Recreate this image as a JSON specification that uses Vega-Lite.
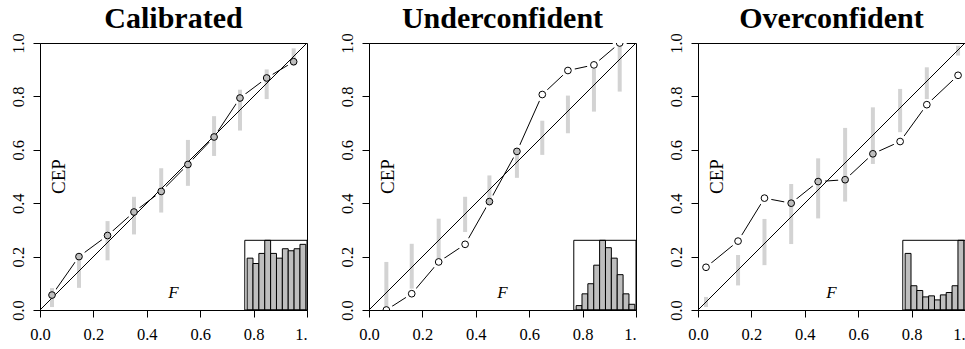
{
  "$schema": "https://vega.github.io/schema/vega-lite/v6.json",
  "background": "white",
  "padding": {"left": 9, "top": 3, "right": 0, "bottom": 0},
  "spacing": 30,
  "config": {
    "view": {"stroke": "black", "strokeWidth": 1},
    "axis": {"grid": false, "domainColor": "black", "tickColor": "black", "labelColor": "black", "labelFont": "Liberation Serif", "labelFontSize": 16.5, "labelFontWeight": "normal", "tickSize": 7, "domainWidth": 1, "tickWidth": 1},
    "title": {"font": "Liberation Serif", "fontSize": 30, "fontWeight": "bold", "color": "black", "offset": -1, "anchor": "middle"}
  },
  "datasets": {
    "one": [{"note": "annotation"}],
    "pts": [
      {"panel": "Calibrated", "F": 0.045, "CEP": 0.056, "lo": 0.011, "hi": 0.082, "ok": "yes"},
      {"panel": "Calibrated", "F": 0.146, "CEP": 0.200, "lo": 0.083, "hi": 0.21, "ok": "yes"},
      {"panel": "Calibrated", "F": 0.253, "CEP": 0.279, "lo": 0.186, "hi": 0.333, "ok": "yes"},
      {"panel": "Calibrated", "F": 0.352, "CEP": 0.367, "lo": 0.283, "hi": 0.424, "ok": "yes"},
      {"panel": "Calibrated", "F": 0.454, "CEP": 0.444, "lo": 0.365, "hi": 0.531, "ok": "yes"},
      {"panel": "Calibrated", "F": 0.554, "CEP": 0.545, "lo": 0.465, "hi": 0.637, "ok": "yes"},
      {"panel": "Calibrated", "F": 0.652, "CEP": 0.648, "lo": 0.577, "hi": 0.726, "ok": "yes"},
      {"panel": "Calibrated", "F": 0.749, "CEP": 0.794, "lo": 0.672, "hi": 0.825, "ok": "yes"},
      {"panel": "Calibrated", "F": 0.849, "CEP": 0.869, "lo": 0.790, "hi": 0.901, "ok": "yes"},
      {"panel": "Calibrated", "F": 0.950, "CEP": 0.930, "lo": 0.915, "hi": 0.98, "ok": "yes"},
      {"panel": "Underconfident", "F": 0.065, "CEP": 0.0, "lo": 0.01, "hi": 0.18, "ok": "no"},
      {"panel": "Underconfident", "F": 0.16, "CEP": 0.061, "lo": 0.08, "hi": 0.248, "ok": "no"},
      {"panel": "Underconfident", "F": 0.261, "CEP": 0.180, "lo": 0.186, "hi": 0.342, "ok": "no"},
      {"panel": "Underconfident", "F": 0.36, "CEP": 0.246, "lo": 0.292, "hi": 0.424, "ok": "no"},
      {"panel": "Underconfident", "F": 0.451, "CEP": 0.406, "lo": 0.392, "hi": 0.504, "ok": "yes"},
      {"panel": "Underconfident", "F": 0.554, "CEP": 0.594, "lo": 0.495, "hi": 0.60, "ok": "yes"},
      {"panel": "Underconfident", "F": 0.649, "CEP": 0.807, "lo": 0.581, "hi": 0.709, "ok": "no"},
      {"panel": "Underconfident", "F": 0.745, "CEP": 0.897, "lo": 0.662, "hi": 0.803, "ok": "no"},
      {"panel": "Underconfident", "F": 0.8425, "CEP": 0.918, "lo": 0.743, "hi": 0.903, "ok": "no"},
      {"panel": "Underconfident", "F": 0.939, "CEP": 1.0, "lo": 0.818, "hi": 0.99, "ok": "no"},
      {"panel": "Overconfident", "F": 0.030, "CEP": 0.160, "lo": 0.011, "hi": 0.049, "ok": "no"},
      {"panel": "Overconfident", "F": 0.150, "CEP": 0.258, "lo": 0.092, "hi": 0.206, "ok": "no"},
      {"panel": "Overconfident", "F": 0.249, "CEP": 0.419, "lo": 0.168, "hi": 0.341, "ok": "no"},
      {"panel": "Overconfident", "F": 0.349, "CEP": 0.400, "lo": 0.247, "hi": 0.472, "ok": "yes"},
      {"panel": "Overconfident", "F": 0.450, "CEP": 0.481, "lo": 0.343, "hi": 0.568, "ok": "yes"},
      {"panel": "Overconfident", "F": 0.551, "CEP": 0.488, "lo": 0.406, "hi": 0.682, "ok": "yes"},
      {"panel": "Overconfident", "F": 0.655, "CEP": 0.585, "lo": 0.547, "hi": 0.759, "ok": "yes"},
      {"panel": "Overconfident", "F": 0.757, "CEP": 0.631, "lo": 0.666, "hi": 0.828, "ok": "no"},
      {"panel": "Overconfident", "F": 0.857, "CEP": 0.769, "lo": 0.79, "hi": 0.909, "ok": "no"},
      {"panel": "Overconfident", "F": 0.974, "CEP": 0.879, "lo": 0.953, "hi": 0.99, "ok": "no"}
    ],
    "hist": [
      {"panel": "Calibrated", "bin_start": 0.0, "bin_end": 0.1, "freq": 0.744},
      {"panel": "Calibrated", "bin_start": 0.1, "bin_end": 0.2, "freq": 0.667},
      {"panel": "Calibrated", "bin_start": 0.2, "bin_end": 0.3, "freq": 0.812},
      {"panel": "Calibrated", "bin_start": 0.3, "bin_end": 0.4, "freq": 1.0},
      {"panel": "Calibrated", "bin_start": 0.4, "bin_end": 0.5, "freq": 0.812},
      {"panel": "Calibrated", "bin_start": 0.5, "bin_end": 0.6, "freq": 0.744},
      {"panel": "Calibrated", "bin_start": 0.6, "bin_end": 0.7, "freq": 0.879},
      {"panel": "Calibrated", "bin_start": 0.7, "bin_end": 0.8, "freq": 0.850},
      {"panel": "Calibrated", "bin_start": 0.8, "bin_end": 0.9, "freq": 0.879},
      {"panel": "Calibrated", "bin_start": 0.9, "bin_end": 1.0, "freq": 0.942},
      {"panel": "Underconfident", "bin_start": 0.0, "bin_end": 0.1, "freq": 0.063},
      {"panel": "Underconfident", "bin_start": 0.1, "bin_end": 0.2, "freq": 0.232},
      {"panel": "Underconfident", "bin_start": 0.2, "bin_end": 0.3, "freq": 0.377},
      {"panel": "Underconfident", "bin_start": 0.3, "bin_end": 0.4, "freq": 0.643},
      {"panel": "Underconfident", "bin_start": 0.4, "bin_end": 0.5, "freq": 1.0},
      {"panel": "Underconfident", "bin_start": 0.5, "bin_end": 0.6, "freq": 0.894},
      {"panel": "Underconfident", "bin_start": 0.6, "bin_end": 0.7, "freq": 0.744},
      {"panel": "Underconfident", "bin_start": 0.7, "bin_end": 0.8, "freq": 0.507},
      {"panel": "Underconfident", "bin_start": 0.8, "bin_end": 0.9, "freq": 0.232},
      {"panel": "Underconfident", "bin_start": 0.9, "bin_end": 1.0, "freq": 0.082},
      {"panel": "Overconfident", "bin_start": 0.0, "bin_end": 0.1, "freq": 0.812},
      {"panel": "Overconfident", "bin_start": 0.1, "bin_end": 0.2, "freq": 0.348},
      {"panel": "Overconfident", "bin_start": 0.2, "bin_end": 0.3, "freq": 0.280},
      {"panel": "Overconfident", "bin_start": 0.3, "bin_end": 0.4, "freq": 0.188},
      {"panel": "Overconfident", "bin_start": 0.4, "bin_end": 0.5, "freq": 0.203},
      {"panel": "Overconfident", "bin_start": 0.5, "bin_end": 0.6, "freq": 0.145},
      {"panel": "Overconfident", "bin_start": 0.6, "bin_end": 0.7, "freq": 0.217},
      {"panel": "Overconfident", "bin_start": 0.7, "bin_end": 0.8, "freq": 0.251},
      {"panel": "Overconfident", "bin_start": 0.8, "bin_end": 0.9, "freq": 0.348},
      {"panel": "Overconfident", "bin_start": 0.9, "bin_end": 1.0, "freq": 1.0}
    ]
  },
  "hconcat": [
    {
      "width": 267, "height": 267, "title": "Calibrated",
      "resolve": {"scale": {"x": "independent", "y": "independent"}},
      "layer": [
        {
          "layer": [
            {"data": {"name": "pts"}, "transform": [{"filter": "datum.panel === 'Calibrated'"}],
             "mark": {"type": "line", "color": "black", "strokeWidth": 1, "clip": true},
             "encoding": {
               "x": {"field": "F", "type": "quantitative", "scale": {"domain": [0, 1], "nice": false, "zero": false},
                     "axis": {"title": null, "values": [0, 0.2, 0.4, 0.6, 0.8, 1], "format": ".1f", "labelFlush": false, "labelPadding": 9, "labelExpr": "datum.value == 1 ? '1.' : datum.label", "labelAlign": {"condition": {"test": "datum.value == 1", "value": "right"}, "value": "center"}}},
               "y": {"field": "CEP", "type": "quantitative", "scale": {"domain": [0, 1], "nice": false, "zero": false},
                     "axis": {"title": null, "values": [0, 0.2, 0.4, 0.6, 0.8, 1], "format": ".1f", "labelFlush": false, "labelAngle": 270, "labelAlign": "center", "labelBaseline": "alphabetic", "labelPadding": 10}}
             }},
            {"data": {"name": "pts"}, "transform": [{"filter": "datum.panel === 'Calibrated'"}],
             "mark": {"type": "point", "filled": true, "color": "white", "opacity": 1, "size": 200, "clip": true},
             "encoding": {"x": {"field": "F", "type": "quantitative"}, "y": {"field": "CEP", "type": "quantitative"}}},
            {"data": {"name": "pts"}, "transform": [{"filter": "datum.panel === 'Calibrated'"}],
             "mark": {"type": "rule", "color": "#d3d3d3", "strokeWidth": 4},
             "encoding": {"x": {"field": "F", "type": "quantitative"}, "y": {"field": "lo", "type": "quantitative"}, "y2": {"field": "hi"}}},
            {"data": {"name": "one"},
             "mark": {"type": "rule", "color": "black", "strokeWidth": 1},
             "encoding": {"x": {"datum": 0}, "y": {"datum": 0}, "x2": {"datum": 1}, "y2": {"datum": 1}}},
            {"data": {"name": "pts"}, "transform": [{"filter": "datum.panel === 'Calibrated'"}],
             "mark": {"type": "point", "filled": true, "size": 45, "stroke": "black", "strokeWidth": 1, "opacity": 1, "clip": true},
             "encoding": {"x": {"field": "F", "type": "quantitative"}, "y": {"field": "CEP", "type": "quantitative"},
               "fill": {"field": "ok", "type": "nominal", "scale": {"domain": ["yes", "no"], "range": ["#bebebe", "white"]}, "legend": null}}},
            {"data": {"name": "one"},
             "mark": {"type": "text", "text": "CEP", "angle": 270, "font": "Liberation Serif", "fontSize": 19, "fontWeight": "normal", "fill": "black"},
             "encoding": {"x": {"datum": 0.07}, "y": {"datum": 0.5}}},
            {"data": {"name": "one"},
             "mark": {"type": "text", "text": "F", "font": "Liberation Serif", "fontStyle": "italic", "fontWeight": "normal", "fontSize": 17, "fill": "black"},
             "encoding": {"x": {"datum": 0.5}, "y": {"datum": 0.065}}}
          ]
        },
        {
          "layer": [
            {"data": {"name": "hist"}, "transform": [{"filter": "datum.panel === 'Calibrated'"}],
             "mark": {"type": "rect", "fill": "#bebebe", "stroke": "black", "strokeWidth": 1},
             "encoding": {
               "x": {"field": "bin_start", "type": "quantitative", "scale": {"domain": [-3.529, 1.02], "nice": false, "zero": false}, "axis": null},
               "x2": {"field": "bin_end"},
               "y": {"field": "freq", "type": "quantitative", "scale": {"domain": [0, 3.831], "nice": false}, "axis": null},
               "y2": {"datum": 0}
             }},
            {"data": {"name": "one"},
             "mark": {"type": "rect", "fillOpacity": 0, "stroke": "black", "strokeWidth": 1},
             "encoding": {"x": {"datum": -0.04}, "x2": {"datum": 1.02}, "y": {"datum": 0}, "y2": {"datum": 1}}}
          ]
        }
      ]
    },
    {
      "width": 267, "height": 267, "title": "Underconfident",
      "resolve": {"scale": {"x": "independent", "y": "independent"}},
      "layer": [
        {
          "layer": [
            {"data": {"name": "pts"}, "transform": [{"filter": "datum.panel === 'Underconfident'"}],
             "mark": {"type": "line", "color": "black", "strokeWidth": 1, "clip": true},
             "encoding": {
               "x": {"field": "F", "type": "quantitative", "scale": {"domain": [0, 1], "nice": false, "zero": false},
                     "axis": {"title": null, "values": [0, 0.2, 0.4, 0.6, 0.8, 1], "format": ".1f", "labelFlush": false, "labelPadding": 9, "labelExpr": "datum.value == 1 ? '1.' : datum.label", "labelAlign": {"condition": {"test": "datum.value == 1", "value": "right"}, "value": "center"}}},
               "y": {"field": "CEP", "type": "quantitative", "scale": {"domain": [0, 1], "nice": false, "zero": false},
                     "axis": {"title": null, "values": [0, 0.2, 0.4, 0.6, 0.8, 1], "format": ".1f", "labelFlush": false, "labelAngle": 270, "labelAlign": "center", "labelBaseline": "alphabetic", "labelPadding": 10}}
             }},
            {"data": {"name": "pts"}, "transform": [{"filter": "datum.panel === 'Underconfident'"}],
             "mark": {"type": "point", "filled": true, "color": "white", "opacity": 1, "size": 200, "clip": true},
             "encoding": {"x": {"field": "F", "type": "quantitative"}, "y": {"field": "CEP", "type": "quantitative"}}},
            {"data": {"name": "pts"}, "transform": [{"filter": "datum.panel === 'Underconfident'"}],
             "mark": {"type": "rule", "color": "#d3d3d3", "strokeWidth": 4},
             "encoding": {"x": {"field": "F", "type": "quantitative"}, "y": {"field": "lo", "type": "quantitative"}, "y2": {"field": "hi"}}},
            {"data": {"name": "one"},
             "mark": {"type": "rule", "color": "black", "strokeWidth": 1},
             "encoding": {"x": {"datum": 0}, "y": {"datum": 0}, "x2": {"datum": 1}, "y2": {"datum": 1}}},
            {"data": {"name": "pts"}, "transform": [{"filter": "datum.panel === 'Underconfident'"}],
             "mark": {"type": "point", "filled": true, "size": 45, "stroke": "black", "strokeWidth": 1, "opacity": 1, "clip": true},
             "encoding": {"x": {"field": "F", "type": "quantitative"}, "y": {"field": "CEP", "type": "quantitative"},
               "fill": {"field": "ok", "type": "nominal", "scale": {"domain": ["yes", "no"], "range": ["#bebebe", "white"]}, "legend": null}}},
            {"data": {"name": "one"},
             "mark": {"type": "text", "text": "CEP", "angle": 270, "font": "Liberation Serif", "fontSize": 19, "fontWeight": "normal", "fill": "black"},
             "encoding": {"x": {"datum": 0.07}, "y": {"datum": 0.5}}},
            {"data": {"name": "one"},
             "mark": {"type": "text", "text": "F", "font": "Liberation Serif", "fontStyle": "italic", "fontWeight": "normal", "fontSize": 17, "fill": "black"},
             "encoding": {"x": {"datum": 0.5}, "y": {"datum": 0.065}}}
          ]
        },
        {
          "layer": [
            {"data": {"name": "hist"}, "transform": [{"filter": "datum.panel === 'Underconfident'"}],
             "mark": {"type": "rect", "fill": "#bebebe", "stroke": "black", "strokeWidth": 1},
             "encoding": {
               "x": {"field": "bin_start", "type": "quantitative", "scale": {"domain": [-3.529, 1.02], "nice": false, "zero": false}, "axis": null},
               "x2": {"field": "bin_end"},
               "y": {"field": "freq", "type": "quantitative", "scale": {"domain": [0, 3.831], "nice": false}, "axis": null},
               "y2": {"datum": 0}
             }},
            {"data": {"name": "one"},
             "mark": {"type": "rect", "fillOpacity": 0, "stroke": "black", "strokeWidth": 1},
             "encoding": {"x": {"datum": -0.04}, "x2": {"datum": 1.02}, "y": {"datum": 0}, "y2": {"datum": 1}}}
          ]
        }
      ]
    },
    {
      "width": 267, "height": 267, "title": "Overconfident",
      "resolve": {"scale": {"x": "independent", "y": "independent"}},
      "layer": [
        {
          "layer": [
            {"data": {"name": "pts"}, "transform": [{"filter": "datum.panel === 'Overconfident'"}],
             "mark": {"type": "line", "color": "black", "strokeWidth": 1, "clip": true},
             "encoding": {
               "x": {"field": "F", "type": "quantitative", "scale": {"domain": [0, 1], "nice": false, "zero": false},
                     "axis": {"title": null, "values": [0, 0.2, 0.4, 0.6, 0.8, 1], "format": ".1f", "labelFlush": false, "labelPadding": 9, "labelExpr": "datum.value == 1 ? '1.' : datum.label", "labelAlign": {"condition": {"test": "datum.value == 1", "value": "right"}, "value": "center"}}},
               "y": {"field": "CEP", "type": "quantitative", "scale": {"domain": [0, 1], "nice": false, "zero": false},
                     "axis": {"title": null, "values": [0, 0.2, 0.4, 0.6, 0.8, 1], "format": ".1f", "labelFlush": false, "labelAngle": 270, "labelAlign": "center", "labelBaseline": "alphabetic", "labelPadding": 10}}
             }},
            {"data": {"name": "pts"}, "transform": [{"filter": "datum.panel === 'Overconfident'"}],
             "mark": {"type": "point", "filled": true, "color": "white", "opacity": 1, "size": 200, "clip": true},
             "encoding": {"x": {"field": "F", "type": "quantitative"}, "y": {"field": "CEP", "type": "quantitative"}}},
            {"data": {"name": "pts"}, "transform": [{"filter": "datum.panel === 'Overconfident'"}],
             "mark": {"type": "rule", "color": "#d3d3d3", "strokeWidth": 4},
             "encoding": {"x": {"field": "F", "type": "quantitative"}, "y": {"field": "lo", "type": "quantitative"}, "y2": {"field": "hi"}}},
            {"data": {"name": "one"},
             "mark": {"type": "rule", "color": "black", "strokeWidth": 1},
             "encoding": {"x": {"datum": 0}, "y": {"datum": 0}, "x2": {"datum": 1}, "y2": {"datum": 1}}},
            {"data": {"name": "pts"}, "transform": [{"filter": "datum.panel === 'Overconfident'"}],
             "mark": {"type": "point", "filled": true, "size": 45, "stroke": "black", "strokeWidth": 1, "opacity": 1, "clip": true},
             "encoding": {"x": {"field": "F", "type": "quantitative"}, "y": {"field": "CEP", "type": "quantitative"},
               "fill": {"field": "ok", "type": "nominal", "scale": {"domain": ["yes", "no"], "range": ["#bebebe", "white"]}, "legend": null}}},
            {"data": {"name": "one"},
             "mark": {"type": "text", "text": "CEP", "angle": 270, "font": "Liberation Serif", "fontSize": 19, "fontWeight": "normal", "fill": "black"},
             "encoding": {"x": {"datum": 0.07}, "y": {"datum": 0.5}}},
            {"data": {"name": "one"},
             "mark": {"type": "text", "text": "F", "font": "Liberation Serif", "fontStyle": "italic", "fontWeight": "normal", "fontSize": 17, "fill": "black"},
             "encoding": {"x": {"datum": 0.5}, "y": {"datum": 0.065}}}
          ]
        },
        {
          "layer": [
            {"data": {"name": "hist"}, "transform": [{"filter": "datum.panel === 'Overconfident'"}],
             "mark": {"type": "rect", "fill": "#bebebe", "stroke": "black", "strokeWidth": 1},
             "encoding": {
               "x": {"field": "bin_start", "type": "quantitative", "scale": {"domain": [-3.529, 1.02], "nice": false, "zero": false}, "axis": null},
               "x2": {"field": "bin_end"},
               "y": {"field": "freq", "type": "quantitative", "scale": {"domain": [0, 3.831], "nice": false}, "axis": null},
               "y2": {"datum": 0}
             }},
            {"data": {"name": "one"},
             "mark": {"type": "rect", "fillOpacity": 0, "stroke": "black", "strokeWidth": 1},
             "encoding": {"x": {"datum": -0.04}, "x2": {"datum": 1.02}, "y": {"datum": 0}, "y2": {"datum": 1}}}
          ]
        }
      ]
    }
  ]
}
